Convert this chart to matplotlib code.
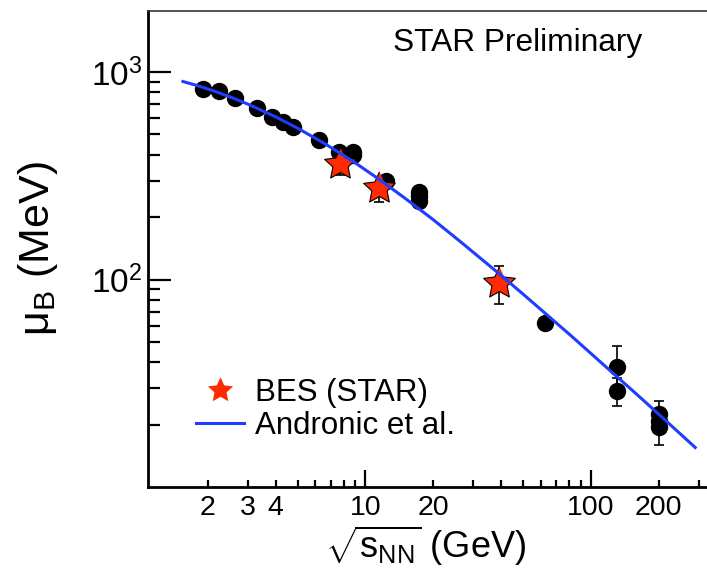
import matplotlib
matplotlib.use("Agg")
import matplotlib.pyplot as plt
import numpy as np
from matplotlib.lines import Line2D
from matplotlib.ticker import FixedLocator, FuncFormatter, NullFormatter

plt.rcParams["font.family"] = ["Liberation Sans", "DejaVu Sans"]
plt.rcParams["mathtext.fontset"] = "custom"
plt.rcParams["mathtext.rm"] = "Liberation Sans"
plt.rcParams["mathtext.it"] = "Liberation Sans:italic"
plt.rcParams["mathtext.bf"] = "Liberation Sans:bold"

# world data (black dots)
world_sqrts = [1.9, 2.25, 2.65, 3.3, 3.85, 4.3, 4.75, 6.2, 7.6, 8.8, 8.8,
               12.3, 17.3, 17.3, 17.3, 62.4, 130, 130, 200, 200, 200]
world_mub = [832, 812, 748, 668, 608, 574, 544, 470, 410, 413, 398,
             300, 264, 252, 240, 62, 38, 29, 22.5, 20.8, 19.5]
world_err = [0, 0, 0, 0, 0, 0, 0, 0, 0, 0, 0,
             0, 0, 0, 0, 0, 10, 4.5, 3.5, 0, 3.6]

# BES (STAR) points
bes_sqrts = [7.7, 11.5, 39.0]
bes_mub = [360, 275, 96]
bes_err = [42, 38, 20]

# Andronic et al. curve
curve_sqrts = [1.55, 1.8, 2.2, 2.6, 3, 4, 5, 6.5, 7.7, 9, 11.5, 15, 20, 27,
               39, 50, 62.4, 80, 100, 130, 160, 200, 240, 290]
curve_mub = [900, 860, 800, 747, 701, 608, 536, 456, 407, 365, 304, 246, 194,
             149, 107, 85, 69, 54.6, 44, 34.1, 27.9, 22.4, 18.7, 15.5]

x_major = [10, 100]
x_minor = [2, 3, 4, 5, 6, 7, 8, 9, 20, 30, 40, 50, 60, 70, 80, 90, 200, 300]
x_minor_labels = {2: "2", 3: "3", 4: "4", 20: "20", 200: "200"}
y_major = [100, 1000]
y_minor = [20, 30, 40, 50, 60, 70, 80, 90, 200, 300, 400, 500, 600, 700, 800, 900]

RED = "#ff2a00"
BLUE = "#1f3dff"

W, H = 707, 568
fig = plt.figure(figsize=(W / 100, H / 100), dpi=100)
ax = fig.add_axes([148 / W, 81 / H, 559 / W, 476.3 / H])

# fat five-point star like the ROOT marker
k = np.arange(10)
ang = np.deg2rad(90 + 36 * k)
rad = np.where(k % 2 == 0, 1.0, 0.48)
star = np.column_stack([rad * np.cos(ang), rad * np.sin(ang)])

ax.errorbar(world_sqrts, world_mub, yerr=world_err, fmt="o", color="black",
            markersize=11.5, elinewidth=1.2, capsize=3.5, capthick=1.2, zorder=2)
ax.errorbar(bes_sqrts, bes_mub, yerr=bes_err, fmt="none", ecolor="black",
            elinewidth=1.2, capsize=3.5, capthick=1.2, zorder=3)
ax.plot(bes_sqrts, bes_mub, linestyle="none", marker=star, markersize=24,
        markerfacecolor=RED, markeredgecolor="black", markeredgewidth=0.8, zorder=3)
ax.plot(curve_sqrts, curve_mub, color=BLUE, lw=2.2, zorder=4)

ax.set_xscale("log")
ax.set_yscale("log")
ax.set_xlim(1.085, 327)
ax.set_ylim(10.0, 1975)

ax.xaxis.set_major_locator(FixedLocator(x_major))
ax.xaxis.set_minor_locator(FixedLocator(x_minor))
ax.xaxis.set_major_formatter(FuncFormatter(lambda v, p: f"{v:g}"))
ax.xaxis.set_minor_formatter(FuncFormatter(lambda v, p: x_minor_labels.get(int(round(v)), "")))
ax.yaxis.set_major_locator(FixedLocator(y_major))
ax.yaxis.set_minor_locator(FixedLocator(y_minor))
ax.yaxis.set_major_formatter(FuncFormatter(lambda v, p: r"$\mathregular{10^{%d}}$" % round(np.log10(v))))
ax.yaxis.set_minor_formatter(NullFormatter())

ax.tick_params(axis="x", which="major", direction="in", length=12, width=1.6,
               labelsize=20.5, pad=6, top=False)
ax.tick_params(axis="x", which="minor", direction="in", length=5.4, width=1.6,
               labelsize=20.5, pad=6, top=False)
ax.tick_params(axis="y", which="major", direction="in", length=16.5, width=1.6,
               labelsize=24, pad=4, right=False)
ax.tick_params(axis="y", which="minor", direction="in", length=8.6, width=1.6, right=False)

ax.spines["right"].set_visible(False)
ax.spines["left"].set_linewidth(2.0)
ax.spines["bottom"].set_linewidth(2.0)
ax.spines["top"].set_linewidth(1.2)
ax.spines["top"].set_color("#333333")

fig.text(38 / W, 1 - 249 / H, r"μ$_\mathregular{B}$ (MeV)", rotation=90,
         ha="center", va="center", fontsize=31)
fig.text(426 / W, 1 - 546 / H, r"$\mathregular{\sqrt{s_{NN}}}$ (GeV)",
         ha="center", va="center", fontsize=26)
fig.text(518 / W, 1 - 43 / H, "STAR Preliminary", ha="center", va="center", fontsize=22.8)

handles = [
    Line2D([], [], linestyle="none", marker=star, markersize=19,
           markerfacecolor=RED, markeredgewidth=0),
    Line2D([], [], color=BLUE, lw=2.2),
]
ax.legend(handles, ["BES (STAR)", "Andronic et al."], loc="upper left",
          bbox_to_anchor=(196 / W, 1 - 378 / H), bbox_transform=fig.transFigure,
          frameon=False, fontsize=22.5, handlelength=1.55, handletextpad=0.35,
          labelspacing=0.1, borderpad=0, borderaxespad=0)

fig.savefig("out.png", dpi=100)
